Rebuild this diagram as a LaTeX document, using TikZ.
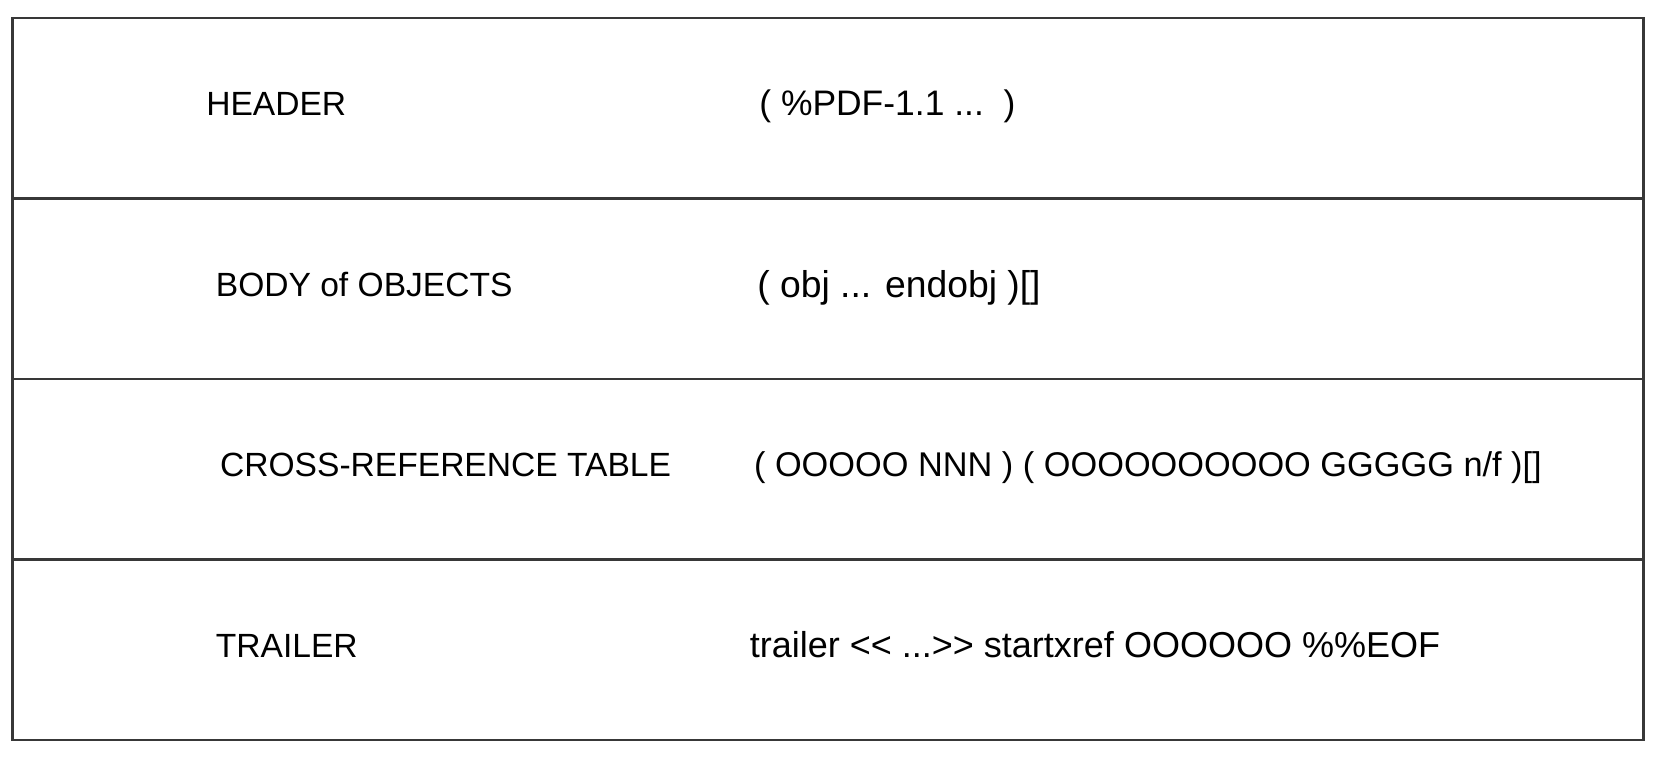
\documentclass[tikz,border=0pt]{standalone}
\usepackage{fontspec}
\setmainfont{Liberation Sans}
\usetikzlibrary{positioning}

\definecolor{linegray}{HTML}{383838}

\begin{document}
\begin{tikzpicture}[
        row/.style={draw=linegray, line width=1.4pt, minimum width=30.72cm, minimum height=3.4cm, inner sep=0pt, outer sep=0pt},
        lbl/.style={inner sep=0pt, anchor=base west, font=\fontsize{18}{21}\selectfont}
    ]
        \useasboundingbox (0,0) rectangle (31.2,-14.38);

        \node[row] (header) at (15.6,-2.04) {};
        \node[row, below = 0pt of header] (body) {};
        \node[row, below = 0pt of body] (xref) {};
        \node[row, below = 0pt of xref] (trailer) {};

        \node[lbl] (headerName) at ([xshift=3.64cm,yshift=-0.14cm]header.west) {HEADER};
        \node[lbl, font=\fontsize{19}{22}\selectfont] (headerText) at ([xshift=14.06cm,yshift=-0.14cm]header.west) {( \%PDF-1.1 ...\ \ )};

        \node[lbl] (bodyName) at ([xshift=3.82cm,yshift=-0.14cm]body.west) {BODY of OBJECTS};
        \node[lbl, font=\fontsize{20}{23}\selectfont] (bodyText) at ([xshift=14.02cm,yshift=-0.16cm]body.west) {( obj ... endobj )[]};

        \node[lbl] (xrefName) at ([xshift=3.9cm,yshift=-0.14cm]xref.west) {CROSS-REFERENCE TABLE};
        \node[lbl, font=\fontsize{18.4}{21}\selectfont] (xrefText) at ([xshift=13.96cm,yshift=-0.14cm]xref.west) {( OOOOO NNN ) ( OOOOOOOOOO GGGGG n/f )[]};

        \node[lbl] (trailerName) at ([xshift=3.82cm,yshift=-0.14cm]trailer.west) {TRAILER};
        \node[lbl, font=\fontsize{19.3}{22}\selectfont] (trailerText) at ([xshift=13.88cm,yshift=-0.14cm]trailer.west) {trailer {<}{<} ...{>}{>} startxref OOOOOO \%\%EOF};
    \end{tikzpicture}
\end{document}
